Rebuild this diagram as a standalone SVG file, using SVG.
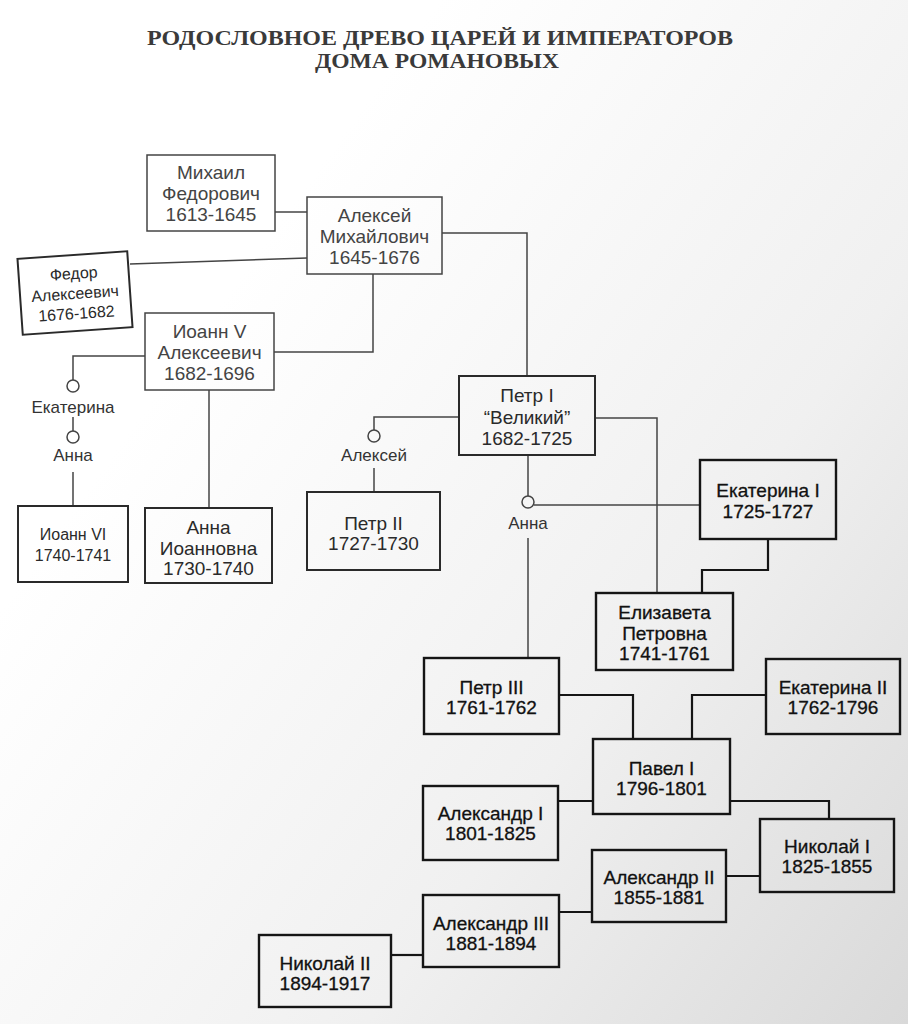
<svg xmlns="http://www.w3.org/2000/svg" width="908" height="1024" viewBox="0 0 908 1024">
<defs>
<linearGradient id="paper" x1="0.2" y1="0.35" x2="1" y2="1">
<stop offset="0" stop-color="#ffffff"/>
<stop offset="0.55" stop-color="#f0f0f0"/>
<stop offset="1" stop-color="#d9d9d9"/>
</linearGradient>
<style>
.title{font-family:"Liberation Serif","DejaVu Serif",serif;font-size:20px;font-weight:bold;fill:#3a3a3a;}
.t{font-family:"Liberation Sans",Arial,sans-serif;font-size:19px;text-anchor:middle;}
.s{font-size:16px;}
.up text{fill:#444;}
.up rect{fill:none;stroke:#444;stroke-width:1.5;}
.mid text{fill:#2a2a2a;}
.mid rect{fill:none;stroke:#2a2a2a;stroke-width:2;}
.lo text{fill:#111;stroke:#111;stroke-width:0.3;}
.lo rect{fill:none;stroke:#151515;stroke-width:2.4;}
.c{fill:none;stroke:#444;stroke-width:1.5;}
.cl{fill:none;stroke:#151515;stroke-width:2.2;}
.lbl{font-family:"Liberation Sans",Arial,sans-serif;font-size:17px;text-anchor:middle;fill:#333;}
</style>
</defs>
<rect x="0" y="0" width="908" height="1024" fill="url(#paper)"/>
<text class="title" x="147" y="45" textLength="586" lengthAdjust="spacingAndGlyphs">РОДОСЛОВНОЕ  ДРЕВО ЦАРЕЙ  И  ИМПЕРАТОРОВ</text>
<text class="title" x="315" y="68" textLength="244" lengthAdjust="spacingAndGlyphs">ДОМА  РОМАНОВЫХ</text>

<g id="connectors">
<path class="c" d="M275,212H307"/>
<path class="c" d="M130,264L307,258"/>
<path class="c" d="M442,233H527V376"/>
<path class="c" d="M373,274V352H274"/>
<path class="c" d="M145,356H73V380"/>
<circle class="c" cx="73" cy="386" r="6"/>
<path class="c" d="M73,417V431"/>
<circle class="c" cx="73" cy="437" r="6"/>
<path class="c" d="M73,472V506"/>
<path class="c" d="M209,390V508"/>
<path class="c" d="M459,417H374V430"/>
<circle class="c" cx="374" cy="436" r="6"/>
<path class="c" d="M374,468V492"/>
<path class="c" d="M528,455V496"/>
<circle class="c" cx="528" cy="502" r="6"/>
<path class="c" d="M534,505H700"/>
<path class="c" d="M528,538V658"/>
<path class="c" d="M595,418H657V593"/>
<path class="cl" d="M768,539V570H702V593"/>
<path class="cl" d="M559,695H633V739"/>
<path class="cl" d="M766,695H692V739"/>
<path class="cl" d="M593,801H558"/>
<path class="cl" d="M730,801H829V819"/>
<path class="cl" d="M760,876H726"/>
<path class="cl" d="M592,912H559"/>
<path class="cl" d="M391,955H423"/>
<text class="lbl s" x="73" y="413">Екатерина</text>
<text class="lbl s" x="73" y="461">Анна</text>
<text class="lbl" x="374" y="461">Алексей</text>
<text class="lbl" x="528" y="529">Анна</text>
</g>

<g id="mikhail" class="up">
<rect x="147" y="155" width="128" height="76"/>
<text class="t" x="211" y="179">Михаил</text>
<text class="t" x="211" y="200">Федорович</text>
<text class="t" x="211" y="221">1613-1645</text>
</g>
<g id="aleksei" class="up">
<rect x="307" y="197" width="135" height="77"/>
<text class="t" x="374.5" y="222">Алексей</text>
<text class="t" x="374.5" y="243">Михайлович</text>
<text class="t" x="374.5" y="264">1645-1676</text>
</g>
<g id="fedor" class="mid" transform="rotate(-4 75 293)">
<rect x="20" y="255" width="110" height="76"/>
<text class="t s" x="75" y="279">Федор</text>
<text class="t s" x="75" y="299">Алексеевич</text>
<text class="t s" x="75" y="319">1676-1682</text>
</g>
<g id="ioann5" class="up">
<rect x="145" y="313" width="129" height="77"/>
<text class="t" x="209.5" y="338">Иоанн V</text>
<text class="t" x="209.5" y="359">Алексеевич</text>
<text class="t" x="209.5" y="380">1682-1696</text>
</g>
<g id="ioann6" class="mid">
<rect x="18" y="506" width="110" height="76"/>
<text class="t s" x="73" y="540">Иоанн VI</text>
<text class="t s" x="73" y="561">1740-1741</text>
</g>
<g id="anna-ioannovna" class="mid">
<rect x="145" y="508" width="127" height="75"/>
<text class="t" x="208.5" y="534">Анна</text>
<text class="t" x="208.5" y="555">Иоанновна</text>
<text class="t" x="208.5" y="575">1730-1740</text>
</g>
<g id="petr1" class="mid">
<rect x="459" y="376" width="136" height="79"/>
<text class="t" x="527" y="402">Петр I</text>
<text class="t" x="527" y="424">“Великий”</text>
<text class="t" x="527" y="445">1682-1725</text>
</g>
<g id="petr2" class="mid">
<rect x="307" y="492" width="133" height="78"/>
<text class="t" x="373.5" y="530">Петр II</text>
<text class="t" x="373.5" y="550">1727-1730</text>
</g>
<g id="ekaterina1" class="lo">
<rect x="700" y="460" width="136" height="79"/>
<text class="t" x="768" y="497">Екатерина I</text>
<text class="t" x="768" y="518">1725-1727</text>
</g>
<g id="elizaveta" class="lo">
<rect x="596" y="593" width="137" height="77"/>
<text class="t" x="664.5" y="619">Елизавета</text>
<text class="t" x="664.5" y="640">Петровна</text>
<text class="t" x="664.5" y="660">1741-1761</text>
</g>
<g id="petr3" class="lo">
<rect x="424" y="658" width="135" height="76"/>
<text class="t" x="491.5" y="694">Петр III</text>
<text class="t" x="491.5" y="714">1761-1762</text>
</g>
<g id="ekaterina2" class="lo">
<rect x="766" y="659" width="134" height="75"/>
<text class="t" x="833" y="694">Екатерина II</text>
<text class="t" x="833" y="714">1762-1796</text>
</g>
<g id="pavel1" class="lo">
<rect x="593" y="739" width="137" height="75"/>
<text class="t" x="661.5" y="775">Павел I</text>
<text class="t" x="661.5" y="795">1796-1801</text>
</g>
<g id="aleksandr1" class="lo">
<rect x="423" y="786" width="135" height="74"/>
<text class="t" x="490.5" y="820">Александр I</text>
<text class="t" x="490.5" y="840">1801-1825</text>
</g>
<g id="nikolai1" class="lo">
<rect x="760" y="819" width="134" height="73"/>
<text class="t" x="827" y="853">Николай I</text>
<text class="t" x="827" y="873">1825-1855</text>
</g>
<g id="aleksandr2" class="lo">
<rect x="592" y="850" width="134" height="72"/>
<text class="t" x="659" y="884">Александр II</text>
<text class="t" x="659" y="904">1855-1881</text>
</g>
<g id="aleksandr3" class="lo">
<rect x="423" y="895" width="136" height="72"/>
<text class="t" x="491" y="930">Александр III</text>
<text class="t" x="491" y="950">1881-1894</text>
</g>
<g id="nikolai2" class="lo">
<rect x="259" y="935" width="132" height="72"/>
<text class="t" x="325" y="970">Николай II</text>
<text class="t" x="325" y="990">1894-1917</text>
</g>
</svg>
